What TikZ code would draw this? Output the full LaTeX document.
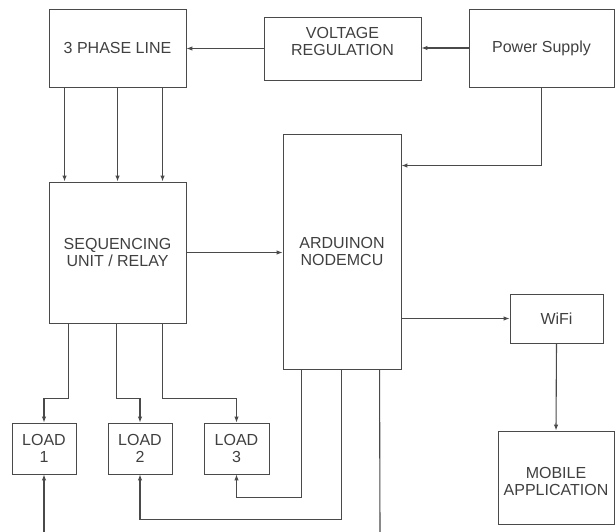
\documentclass[tikz,border=0pt]{standalone}
\usepackage{fontspec}
\setmainfont{Liberation Sans}
\usepackage{xcolor}
\usepackage{tikz}
\usetikzlibrary{calc, positioning, arrows.meta}

\definecolor{linegray}{HTML}{4A4A4A}
\definecolor{textgray}{HTML}{404040}

\begin{document}
\begin{tikzpicture}[>={Latex[length=6pt,width=4.5pt]}, x=1pt, y=-1pt,
    box/.style={draw=linegray, line width=0.9pt, align=center, inner sep=0pt,
        text=textgray, font=\fontsize{16}{17}\selectfont},
    txt/.style={align=center, text=textgray, font=\fontsize{16}{17}\selectfont},
    wire/.style={draw=linegray, line width=1.1pt}]
    \useasboundingbox (0,0) rectangle (616,532);

    % Các khối phía trên
    \node[box, minimum width=137, minimum height=78] (phase) at (117.5,48) {3 PHASE LINE};
    \node[box, minimum width=157, minimum height=63,
        label={[txt, yshift=7pt]center:VOLTAGE\\REGULATION}] (volt) at (342.5,48.5) {};
    \node[box, minimum width=145, minimum height=78] (power) at (541.5,48) {Power Supply};

    % Khối giữa
    \node[box, minimum width=137, minimum height=141] (seq) at (117.5,252.5) {SEQUENCING\\UNIT / RELAY};
    \node[box, minimum width=118, minimum height=235] (ard) at (342,251.5) {ARDUINON\\NODEMCU};
    \node[box, minimum width=93, minimum height=49] (wifi) at (556.5,318.5) {WiFi};
    \node[box, minimum width=116, minimum height=93,
        label={[txt, yshift=-4pt]center:MOBILE\\APPLICATION}] (mobile) at (556,477.5) {};

    % Các tải
    \node[box, minimum width=64, minimum height=51] (load1) at (44,448.5) {LOAD\\1};
    \node[box, minimum width=64, minimum height=51] (load2) at (140,448.5) {LOAD\\2};
    \node[box, minimum width=65, minimum height=51] (load3) at (236.5,448.5) {LOAD\\3};

    % Nguồn
    \draw[wire, ->] (power.west) -- (power.west -| volt.east);
    \draw[wire, ->] (volt.west) -- (volt.west -| phase.east);
    \draw[wire, ->] (power.south) |- ([yshift=-32pt]ard.north east);

    % Ba pha xuống bộ tuần tự
    \foreach \s in {16,69,114} {
        \draw[wire, ->] ([xshift=\s pt]phase.south west) -- ([xshift=\s pt]seq.north west);
    }
    \draw[wire, ->] (seq.east) -- (seq.east -| ard.west);
    \draw[wire, ->] (wifi.west -| ard.east) -- (wifi.west);
    \draw[wire, ->] (wifi.south) -- (mobile.north);

    % Bộ tuần tự xuống tải
    \draw[wire, ->] ([xshift=20pt]seq.south west) -- ++(0,75) -| (load1.north);
    \draw[wire, ->] ([xshift=68pt]seq.south west) -- ++(0,75) -| (load2.north);
    \draw[wire, ->] ([xshift=114pt]seq.south west) -- ++(0,75) -| (load3.north);

    % Vi điều khiển về tải
    \coordinate (ardout) at (380,532);
    \coordinate (loadin) at (44,532);
    \draw[wire, ->] ([xshift=19pt]ard.south west) -- ++(0,128) -| (load3.south);
    \draw[wire, ->] ([xshift=59pt]ard.south west) -- ++(0,150) -| (load2.south);
    \draw[wire] ([xshift=97pt]ard.south west) -- (ardout);
    \draw[wire, ->] (loadin) -- (load1.south);
\end{tikzpicture}
\end{document}
